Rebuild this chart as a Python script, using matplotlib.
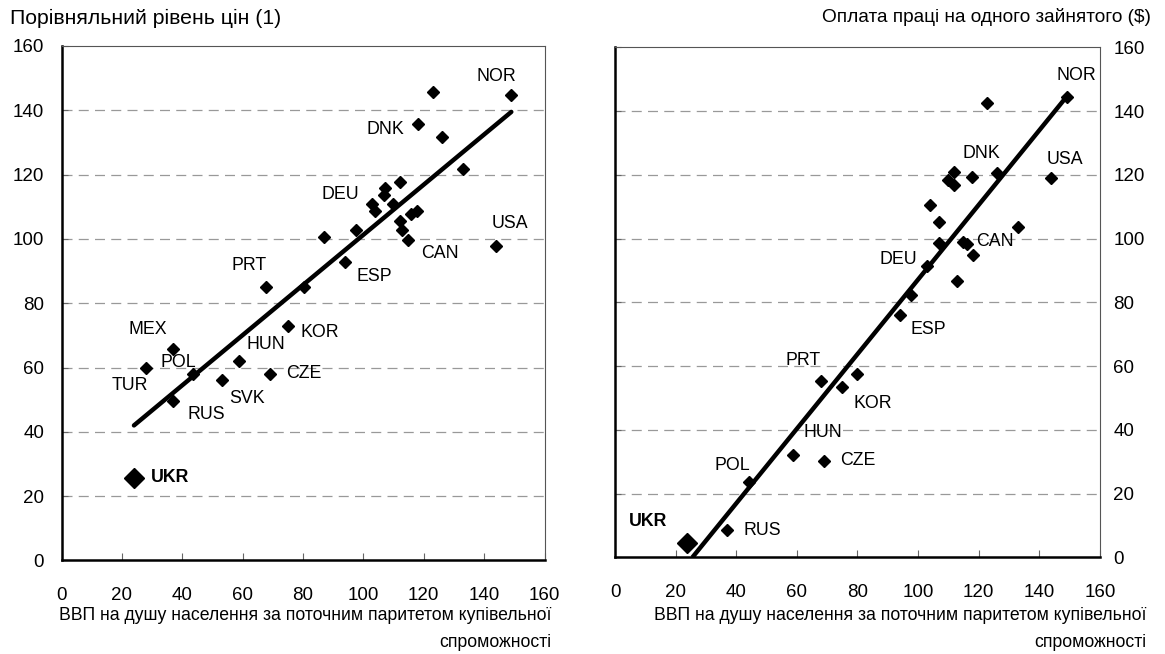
import numpy as np
import matplotlib
matplotlib.use("Agg")
import matplotlib.pyplot as plt

plt.rcParams['font.family'] = ['Liberation Sans', 'DejaVu Sans']

# left panel: GDP per capita (PPP) vs comparative price level
left_gdp = [123, 149, 118, 126, 133, 112, 107, 106.8, 102.9, 109.8, 103.9, 115.8, 117.9, 112, 112.7,
            114.9, 143.8, 87, 97.7, 93.9, 67.9, 80.3, 75, 37, 27.9, 58.9, 43.7, 53, 69, 37]
left_price = [145.6, 144.7, 135.8, 131.6, 121.7, 117.6, 115.9, 113.7, 110.9, 110.9, 108.7, 107.8, 108.8, 105.7, 102.8,
              99.7, 97.9, 100.7, 102.8, 92.9, 84.9, 84.9, 72.9, 65.9, 60, 62, 58, 56, 58, 49.6]
left_ukr = (23.9, 25.6)
left_trend_x = [24, 149]
left_trend_y = [42, 139.5]

# right panel: GDP per capita (PPP) vs compensation per employee
right_gdp = [122.7, 149, 111.9, 117.9, 125.9, 110, 112, 143.9, 103.8, 106.8, 107, 114.9, 116, 133, 118,
             103, 112.8, 97.7, 93.9, 67.9, 74.9, 79.7, 58.8, 68.8, 44.1, 36.8]
right_wage = [142.6, 144.5, 120.8, 119.3, 120.5, 118.3, 116.9, 118.9, 110.7, 105.4, 98.8, 99, 98.5, 103.8, 94.8,
              91.4, 86.7, 82.4, 76, 55.5, 53.5, 57.6, 32.2, 30.2, 23.7, 8.6]
right_ukr = (23.7, 4.4)
right_trend_x = [25.5, 148.5]
right_trend_y = [0, 144]

ticks = [0, 20, 40, 60, 80, 100, 120, 140, 160]

# country labels (text, x, y) in data units
left_labels = [("NOR", 144.2, 150.5), ("DNK", 107.2, 133.9), ("DEU", 92.3, 113.7), ("USA", 148.6, 104.9),
               ("CAN", 125.4, 95.5), ("ESP", 103.6, 88.3), ("PRT", 62.2, 91.6), ("MEX", 28.6, 71.7),
               ("POL", 38.7, 61.5), ("TUR", 22.8, 54.4), ("HUN", 67.7, 67.3), ("KOR", 85.7, 71.0),
               ("CZE", 80.1, 58.2), ("SVK", 61.4, 50.5), ("RUS", 48.1, 45.5)]
left_ukr_label = (35.8, 25.8)
right_labels = [("NOR", 152.1, 151.1), ("DNK", 121.0, 126.7), ("USA", 148.5, 124.7), ("CAN", 125.4, 99.0),
                ("DEU", 93.5, 93.6), ("ESP", 103.4, 71.4), ("PRT", 62.1, 61.9), ("KOR", 85.2, 48.4),
                ("HUN", 68.7, 39.3), ("CZE", 80.1, 30.5), ("POL", 38.7, 28.7), ("RUS", 48.6, 8.6)]
right_ukr_label = (11.0, 11.4)

fig = plt.figure(figsize=(11.65, 6.54), dpi=100)
ax1 = fig.add_axes([0.0528, 0.1430, 0.4146, 0.7867])
ax2 = fig.add_axes([0.5279, 0.1476, 0.4163, 0.7798])


def style(ax, right):
	ax.set_xlim(0, 160)
	ax.set_ylim(0, 160)
	ax.set_xticks(ticks)
	ax.set_yticks(ticks)
	for y in ticks[1:-1]:
		ax.axhline(y, color='#999999', lw=0.9, ls=(0, (8, 5)), zorder=0)
	for s in ['left', 'bottom']:
		ax.spines[s].set_linewidth(1.8)
		ax.spines[s].set_color('black')
	for s in ['top', 'right']:
		ax.spines[s].set_linewidth(0.8)
		ax.spines[s].set_color('#555555')
	ax.tick_params(axis='x', direction='in', length=5, width=0.8, color='#666666',
				   labelsize=13.5, pad=19)
	if right:
		ax.tick_params(axis='y', direction='in', length=4, width=0.8, color='#666666',
					   left=True, right=False, labelleft=False, labelright=True,
					   labelsize=13.5, pad=9.5)
	else:
		ax.tick_params(axis='y', direction='in', length=4, width=0.8, color='#666666',
					   labelsize=13.5, pad=12.6)


style(ax1, False)
style(ax2, True)

ax1.plot(left_trend_x, left_trend_y, color='black', lw=3.2, solid_capstyle='round', zorder=2)
ax1.plot(left_gdp, left_price, 'D', color='black', ms=6.5, ls='none', zorder=3)
ax1.plot([left_ukr[0]], [left_ukr[1]], 'D', color='black', ms=10, ls='none', zorder=3)
for t, x, y in left_labels:
	ax1.text(x, y, t, fontsize=12.8, ha='center', va='center')
ax1.text(left_ukr_label[0], left_ukr_label[1], "UKR", fontsize=12.8, fontweight='bold', ha='center', va='center')

ax2.plot(right_trend_x, right_trend_y, color='black', lw=3.2, solid_capstyle='butt', zorder=2)
ax2.plot(right_gdp, right_wage, 'D', color='black', ms=6.5, ls='none', zorder=3, clip_on=False)
ax2.plot([right_ukr[0]], [right_ukr[1]], 'D', color='black', ms=10, ls='none', zorder=3, clip_on=False)
for t, x, y in right_labels:
	ax2.text(x, y, t, fontsize=12.8, ha='center', va='center')
ax2.text(right_ukr_label[0], right_ukr_label[1], "UKR", fontsize=12.8, fontweight='bold', ha='center', va='center')

# titles and axis captions
fig.text(10 / 1165, 1 - 18 / 654, "Порівняльний рівень цін (1)", fontsize=15.3, ha='left', va='center')
fig.text(1151 / 1165, 1 - 17 / 654, "Оплата праці на одного зайнятого ($)", fontsize=13.7, ha='right', va='center')
xcap = "ВВП на душу населення за поточним паритетом купівельної\nспроможності"
fig.text(551 / 1165, 1 - 607 / 654, xcap, fontsize=12.66, ha='right', va='top', multialignment='right', linespacing=1.8)
fig.text(1146 / 1165, 1 - 607 / 654, xcap, fontsize=12.66, ha='right', va='top', multialignment='right', linespacing=1.8)

plt.savefig('out.png', dpi=100)
